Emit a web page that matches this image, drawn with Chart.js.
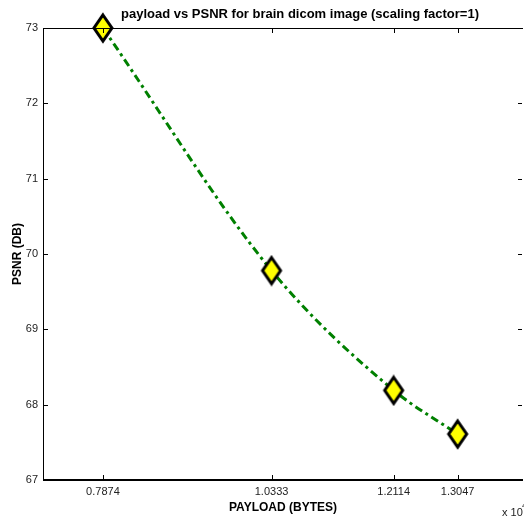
<!DOCTYPE html>
<html>
<head>
<meta charset="utf-8">
<script src="https://cdn.jsdelivr.net/npm/chart.js@4.4.1/dist/chart.umd.min.js"></script>
<style>
  html, body { margin: 0; padding: 0; background: #fff; }
  #wrap { width: 524px; height: 518px; }
</style>
</head>
<body>
<div id="wrap"><canvas id="myChart" width="524" height="518"></canvas></div>
<script>
// data (payload in units of 10^4 bytes)
const payload = [0.7874, 1.0333, 1.2114, 1.3047];
const psnr = [73.0, 69.78, 68.19, 67.61];
const xTicks = [0.7874, 1.0333, 1.2114, 1.3047];
const yTicks = [67, 68, 69, 70, 71, 72, 73];

const titleText = 'payload vs PSNR for brain dicom image (scaling factor=1)';
const fontFamily = '"Liberation Sans", Arial, sans-serif';

// matlab style diamond marker
const makeDiamond = () => {
    const c = document.createElement('canvas');
    c.width = 26;
    c.height = 32;
    const g = c.getContext('2d');
    g.beginPath();
    g.moveTo(13, 3);
    g.lineTo(22, 16);
    g.lineTo(13, 29);
    g.lineTo(4, 16);
    g.closePath();
    g.fillStyle = '#ffff00';
    g.fill();
    g.lineWidth = 3;
    g.lineJoin = 'miter';
    g.strokeStyle = '#000';
    g.stroke();
    return c;
};

// box, inward ticks, title and exponent label
const framePlugin = {
    id: 'frame',
    afterDraw(chart) {
        const ctx = chart.ctx;
        const a = chart.chartArea;
        const xs = chart.scales.x;
        const ys = chart.scales.y;
        ctx.save();
        ctx.strokeStyle = '#000';
        ctx.lineWidth = 1;
        ctx.beginPath();
        ctx.moveTo(a.left + 0.5, a.bottom);
        ctx.lineTo(a.left + 0.5, a.top + 0.5);
        ctx.lineTo(a.right, a.top + 0.5);
        ctx.stroke();
        ctx.lineWidth = 2;
        ctx.beginPath();
        ctx.moveTo(a.left, a.bottom);
        ctx.lineTo(a.right, a.bottom);
        ctx.stroke();

        ctx.lineWidth = 1;
        ctx.beginPath();
        xTicks.forEach(v => {
            const px = Math.round(xs.getPixelForValue(v)) + 0.5;
            ctx.moveTo(px, a.bottom);
            ctx.lineTo(px, a.bottom - 5);
            ctx.moveTo(px, a.top);
            ctx.lineTo(px, a.top + 5);
        });
        yTicks.forEach(v => {
            const py = Math.round(ys.getPixelForValue(v)) + 0.5;
            ctx.moveTo(a.left, py);
            ctx.lineTo(a.left + 5, py);
            ctx.moveTo(a.right - 1, py);
            ctx.lineTo(a.right - 5, py);
        });
        ctx.stroke();

        ctx.fillStyle = '#000';
        ctx.font = 'bold 13px ' + fontFamily;
        ctx.textAlign = 'center';
        ctx.textBaseline = 'middle';
        ctx.fillText(titleText, 300, 14);

        ctx.font = '11px ' + fontFamily;
        ctx.textAlign = 'left';
        ctx.fillStyle = '#222';
        ctx.fillText('x 10', 502, 513);
        ctx.font = '8px ' + fontFamily;
        ctx.fillText('4', 522, 506);
        ctx.restore();
    }
};

const ctx = document.getElementById('myChart');

const psnrChart = new Chart(ctx, {
    type: 'line',
    data: {
        datasets: [{
            label: 'PSNR',
            data: payload.map((p, i) => ({ x: p, y: psnr[i] })),
            borderColor: '#008000',
            borderWidth: 3,
            borderDash: [8, 4, 3, 4],
            borderCapStyle: 'butt',
            cubicInterpolationMode: 'monotone',
            fill: false,
            pointStyle: makeDiamond(),
            clip: false,
        }]
    },
    options: {
        responsive: false,
        animation: false,
        layout: { autoPadding: false, padding: { top: 28, right: 1, left: 0, bottom: 0 } },
        plugins: {
            legend: { display: false },
            title: { display: false },
            tooltip: { enabled: false },
        },
        scales: {
            x: {
                type: 'linear',
                min: 0.7,
                max: 1.4,
                afterBuildTicks: (scale) => {
                    scale.ticks = xTicks.map(v => ({ value: v }));
                },
                afterFit: (scale) => {
                    scale.height = 38;
                    scale.paddingLeft = 0;
                    scale.paddingRight = 0;
                },
                grid: { display: false, drawTicks: false, tickLength: 0 },
                border: { display: false },
                ticks: {
                    padding: 5,
                    maxRotation: 0,
                    autoSkip: false,
                    color: '#222',
                    font: { family: fontFamily, size: 11 },
                    callback: (v) => Number(v).toFixed(4),
                },
                title: {
                    display: true,
                    text: 'PAYLOAD (BYTES)',
                    color: '#000',
                    font: { family: fontFamily, size: 12, weight: 'bold' },
                    padding: { top: 0, bottom: 3 },
                },
            },
            y: {
                min: 67,
                max: 73,
                afterBuildTicks: (scale) => {
                    scale.ticks = yTicks.map(v => ({ value: v }));
                },
                afterFit: (scale) => {
                    scale.width = 43;
                    scale.paddingTop = 0;
                    scale.paddingBottom = 0;
                },
                grid: { display: false, drawTicks: false, tickLength: 0 },
                border: { display: false },
                ticks: {
                    padding: 5,
                    color: '#222',
                    font: { family: fontFamily, size: 11 },
                },
                title: {
                    display: true,
                    text: 'PSNR (DB)',
                    color: '#000',
                    font: { family: fontFamily, size: 12, weight: 'bold' },
                    padding: { top: 10, bottom: 0 },
                },
            },
        },
    },
    plugins: [framePlugin],
});
</script>
</body>
</html>
